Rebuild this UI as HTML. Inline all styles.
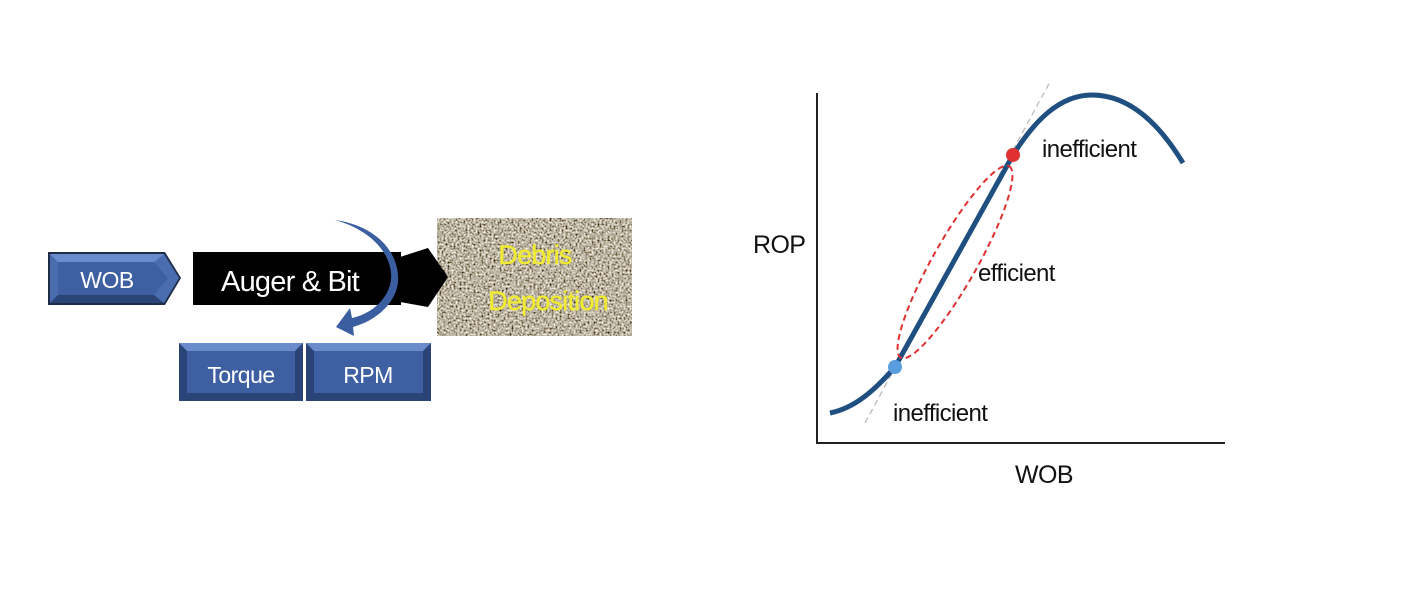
<!DOCTYPE html>
<html><head><style>html,body{margin:0;padding:0;background:#fff}svg{display:block}</style></head>
<body>
<svg width="1416" height="596" viewBox="0 0 1416 596" xmlns="http://www.w3.org/2000/svg" font-family="Liberation Sans, sans-serif">
<defs>
<filter id="n" x="0" y="0" width="100%" height="100%">
<feTurbulence type="fractalNoise" baseFrequency="0.5" numOctaves="2" seed="3"/>
<feColorMatrix type="matrix" values="1.6 0 0 0 -0.3  1.6 0 0 0 -0.34  1.5 0 0 0 -0.38  0 0 0 0 1"/>
</filter>
</defs>
<!-- WOB box -->
<polygon points="48,252 165,252 181,278 165,305 48,305" fill="#1e2c48"/>
<polygon points="50,254 164,254 179,278 164,303 50,303" fill="#4a6db0"/>
<polygon points="50,254 164,254 154,262 58,262" fill="#6a8ccc"/>
<polygon points="50,303 164,303 154,295 58,295" fill="#2a4478"/>
<polygon points="58,262 154,262 168,278 154,295 58,295" fill="#3e60a2"/>
<text x="107" y="288" font-size="23" fill="#fff" text-anchor="middle" letter-spacing="-0.5">WOB</text>
<!-- Torque / RPM -->
<rect x="179" y="343" width="124" height="58" fill="#2a4478"/>
<polygon points="179,343 303,343 295,351 187,351" fill="#6a8ccc"/>
<rect x="187" y="351" width="108" height="42" fill="#3e60a2"/>
<text x="241" y="383" font-size="23" fill="#fff" text-anchor="middle" letter-spacing="-0.5">Torque</text>
<rect x="306" y="343" width="125" height="58" fill="#2a4478"/>
<polygon points="306,343 431,343 423,351 314,351" fill="#6a8ccc"/>
<rect x="314" y="351" width="109" height="42" fill="#3e60a2"/>
<text x="368" y="383" font-size="23" fill="#fff" text-anchor="middle" letter-spacing="-0.5">RPM</text>
<!-- texture -->
<rect x="437" y="218" width="195" height="118" fill="#9c9484"/>
<rect x="437" y="218" width="195" height="118" filter="url(#n)"/>
<text x="535" y="264" font-size="27" fill="#f0ea30" text-anchor="middle" letter-spacing="-0.8" stroke="#f0ea30" stroke-width="0.4">Debris</text>
<text x="548" y="310" font-size="27" fill="#f0ea30" text-anchor="middle" letter-spacing="-0.8" stroke="#f0ea30" stroke-width="0.4">Deposition</text>
<!-- Auger & Bit -->
<rect x="193" y="252" width="208" height="53" fill="#000"/>
<polygon points="400,257 428,248 448,277 428,307 400,302" fill="#000"/>
<text x="290" y="291" font-size="29" fill="#fff" text-anchor="middle" letter-spacing="-0.8">Auger &amp; Bit</text>
<!-- blue curved arrow -->
<path d="M335,220 C378,232 396,262 390,285 C385,302 370,314 352,318 L350,308 L336,327 L354,336 L353,327 C378,320 396,302 398,282 C400,254 378,226 335,220 Z" fill="#3a5ea0"/>
<!-- chart -->
<line x1="817" y1="93" x2="817" y2="443" stroke="#222" stroke-width="2"/>
<line x1="816" y1="443" x2="1225" y2="443" stroke="#222" stroke-width="2"/>
<line x1="865" y1="423" x2="1051" y2="80" stroke="#bbb" stroke-width="1.3" stroke-dasharray="6,4"/>
<path d="M830,413 C855,408 875,390 895,367 L1013,155 C1035,120 1060,95 1092,95 C1130,95 1160,125 1183,163" fill="none" stroke="#1f4f80" stroke-width="5"/>
<ellipse cx="955" cy="262" rx="110" ry="22" transform="rotate(-60.5 955 262)" fill="none" stroke="#e03030" stroke-width="2" stroke-dasharray="6,4"/>
<circle cx="895" cy="367" r="7" fill="#5a9ee0"/>
<circle cx="1013" cy="155" r="7" fill="#e03030"/>
<text x="1042" y="157" font-size="24" fill="#111" letter-spacing="-0.6">inefficient</text>
<text x="978" y="281" font-size="24" fill="#111" letter-spacing="-0.6">efficient</text>
<text x="893" y="421" font-size="24" fill="#111" letter-spacing="-0.6">inefficient</text>
<text x="753" y="253" font-size="25" fill="#111" letter-spacing="-0.6">ROP</text>
<text x="1015" y="483" font-size="25" fill="#111" letter-spacing="-0.6">WOB</text>
</svg>
</body></html>
